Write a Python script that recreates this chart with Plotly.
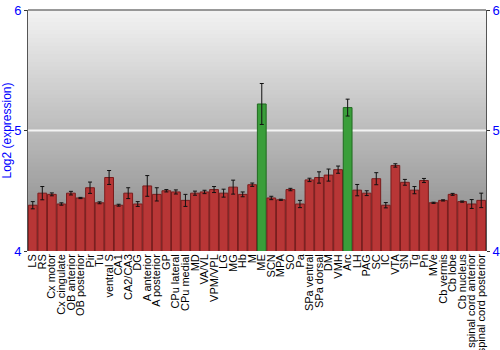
import plotly.graph_objects as go

regions = ["LS", "RS", "Cx motor", "Cx cingulate", "OB anterior", "OB posterior", "Pir", "Tu",
           "ventral S", "CA1", "CA2/CA3", "DG", "A anterior", "A posterior", "GP", "CPu lateral",
           "CPu medial", "MD", "VA/VL", "VPM/VPL", "LG", "MG", "Hb", "M", "ME", "SCN", "MPA", "SO",
           "Pa", "SPa ventral", "SPa dorsal", "DM", "VMH", "Arc", "LH", "PAG", "SC", "IC", "VTA",
           "SN", "Tg", "Pn", "MVe", "Cb vermis", "Cb lobe", "Cb nucleus", "spinal cord anterior",
           "spinal cord posterior"]
expression = [4.38, 4.48, 4.47, 4.39, 4.48, 4.44, 4.525, 4.40,
              4.61, 4.38, 4.48, 4.39, 4.54, 4.47, 4.50, 4.49,
              4.42, 4.48, 4.49, 4.51, 4.48, 4.53, 4.47, 4.55, 5.22, 4.44, 4.425, 4.51,
              4.39, 4.59, 4.61, 4.63, 4.675, 5.19, 4.505, 4.48, 4.60, 4.38, 4.71,
              4.57, 4.505, 4.585, 4.40, 4.42, 4.47, 4.41, 4.39, 4.42]
error = [0.03, 0.055, 0.012, 0.01, 0.015, 0.005, 0.047, 0.008,
         0.058, 0.008, 0.045, 0.02, 0.086, 0.055, 0.01, 0.017,
         0.05, 0.017, 0.014, 0.025, 0.033, 0.058, 0.02, 0.014, 0.17, 0.014, 0.005, 0.01,
         0.03, 0.014, 0.047, 0.05, 0.03, 0.07, 0.047, 0.02, 0.05, 0.022, 0.014,
         0.024, 0.03, 0.017, 0.005, 0.005, 0.008, 0.005, 0.037, 0.06]
highlighted = ["ME", "Arc"]

fill = ["#3a9e3a" if r in highlighted else "#b83636" for r in regions]
edge = ["#1f6a1f" if r in highlighted else "#7a1c1c" for r in regions]

fig = go.Figure()
fig.add_trace(go.Bar(
    x=regions, y=expression,
    marker=dict(color=fill, line=dict(color=edge, width=1)),
    error_y=dict(type="data", array=error, color="#111111", thickness=1, width=2),
    showlegend=False, hoverinfo="x+y",
))
fig.add_trace(go.Scatter(x=regions, y=expression, yaxis="y2", mode="markers",
                         marker=dict(opacity=0, size=1), showlegend=False, hoverinfo="skip"))

# gradient background bands (overlapping to avoid seams)
n = 60
shapes = []
for i in range(n):
    t = i / (n - 1)
    g = int(round(132 + (242 - 132) * t))
    shapes.append(dict(type="rect", xref="paper", yref="paper", x0=0, x1=1,
                       y0=i / n, y1=min(1.0, (i + 2) / n), layer="below",
                       fillcolor=f"rgb({g},{g},{g})", line=dict(width=0)))
shapes.append(dict(type="line", xref="paper", yref="paper", x0=0, x1=1, y0=1, y1=1,
                   line=dict(color="#777777", width=1.5)))
shapes.append(dict(type="line", xref="paper", yref="y", x0=0, x1=1, y0=5, y1=5,
                   layer="below", line=dict(color="#f4f4f4", width=2)))

axis_font = dict(family="Liberation Sans, Arial, sans-serif", size=13, color="#0000ff")
fig.update_layout(
    width=500, height=350,
    margin=dict(l=28, r=14, t=10, b=99, autoexpand=False),
    paper_bgcolor="white", plot_bgcolor="rgba(0,0,0,0)",
    bargap=0.08,
    shapes=shapes,
    font=dict(family="Liberation Sans, Arial, sans-serif"),
    xaxis=dict(type="category", tickangle=-90, showgrid=False, ticks="", automargin=False,
               tickmode="linear", dtick=1, range=[-0.5, len(regions) - 0.5],
               tickfont=dict(family="Liberation Sans, Arial, sans-serif", size=11, color="black"),
               showline=False, zeroline=False),
    yaxis=dict(range=[4, 6], tickvals=[4, 5, 6], showgrid=False, zeroline=False, automargin=False,
               ticks="outside", ticklen=3, tickcolor="#333333",
               showline=True, linecolor="#555555", linewidth=1,
               tickfont=axis_font,
               title=dict(text="Log2 (expression)", standoff=0,
                          font=dict(family="Liberation Sans, Arial, sans-serif", size=12, color="#0000ff"))),
    yaxis2=dict(range=[4, 6], tickvals=[4, 5, 6], overlaying="y", side="right", automargin=False,
                showgrid=False, zeroline=False, ticks="outside", ticklen=3, tickcolor="#333333",
                showline=True, linecolor="#555555", linewidth=1, tickfont=axis_font),
)
fig.write_html("out.html")
